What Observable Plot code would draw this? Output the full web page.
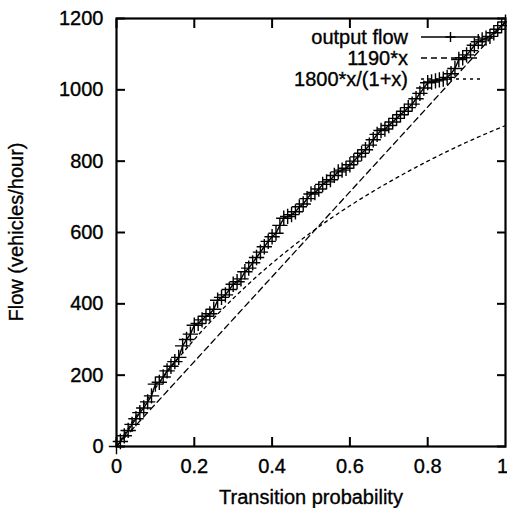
<!DOCTYPE html>
<html><head><meta charset="utf-8">
<script src="https://cdn.jsdelivr.net/npm/d3@7"></script>
<script src="https://cdn.jsdelivr.net/npm/@observablehq/plot@0.6"></script>
<style>
body{margin:0;background:#fff}
#chart svg{font-family:"Liberation Sans",Arial,Helvetica,sans-serif;display:block}
#chart svg text{stroke:black;stroke-width:0.35px}
</style>
</head><body><div id="chart"></div>
<script>
// Transition probability sampled for the measured output flow
const outputX = [0,0.01,0.02,0.03,0.04,0.05,0.06,0.07,0.08,0.09,
  0.1,0.11,0.12,0.13,0.14,0.15,0.16,0.17,0.18,0.19,
  0.2,0.21,0.22,0.23,0.24,0.25,0.26,0.27,0.28,0.29,
  0.3,0.31,0.32,0.33,0.34,0.35,0.36,0.37,0.38,0.39,
  0.4,0.41,0.42,0.43,0.44,0.45,0.46,0.47,0.48,0.49,
  0.5,0.51,0.52,0.53,0.54,0.55,0.56,0.57,0.58,0.59,
  0.6,0.61,0.62,0.63,0.64,0.65,0.66,0.67,0.68,0.69,
  0.7,0.71,0.72,0.73,0.74,0.75,0.76,0.77,0.78,0.79,
  0.8,0.81,0.82,0.83,0.84,0.85,0.86,0.87,0.88,0.89,
  0.9,0.91,0.92,0.93,0.94,0.95,0.96,0.97,0.98,0.99,1];
// Output flow (vehicles/hour)
const outputFlow = [0,14,30,45,62,78,95,108,125,142,
  175,180,195,212,225,238,250,282,300,315,
  340,345,355,365,372,385,410,418,425,440,
  455,462,470,490,500,515,530,545,560,575,
  588,598,620,640,645,650,658,672,680,695,
  708,712,722,735,742,748,760,770,775,780,
  790,800,812,822,832,845,860,875,886,890,
  900,910,920,930,940,950,960,975,990,1005,
  1020,1022,1025,1028,1030,1035,1045,1060,1085,1090,
  1098,1110,1125,1135,1140,1145,1150,1160,1170,1180,1190];
// 1190*x reference line (end points)
const linearX = [0, 1];
const linearFlow = [0, 1190];
// 1800*x/(1+x) reference curve (sampled values)
const curveX = [0,0.1,0.2,0.3,0.4,0.5,0.6,0.7,0.8,0.9,1];
const curveFlow = [0,164,300,415,514,600,675,741,800,853,900];

const xTicks = [0,0.2,0.4,0.6,0.8];
const xTickLabels = ["0","0.2","0.4","0.6","0.8"];
const xLastTick = [1];
const xLastTickLabel = ["1"];
const yTicks = [0,200,400,600,800,1000,1200];
const yTickLabels = ["0","200","400","600","800","1000","1200"];
const seriesNames = ["output flow","1190*x","1800*x/(1+x)"];
const xTitle = "Transition probability";
const yTitle = "Flow (vehicles/hour)";

const outputData = outputX.map((x,i)=>({x, y: outputFlow[i]}));
const linearData = linearX.map((x,i)=>({x, y: linearFlow[i]}));
const curveData = curveX.map((x,i)=>({x, y: curveFlow[i]}));

const chart = Plot.plot({
  width: 507, height: 508,
  marginLeft: 116, marginRight: 2, marginTop: 18, marginBottom: 62,
  style: {fontFamily: '"Liberation Sans",Arial,sans-serif', fontSize: "20px", color: "black", background: "white", overflow: "visible"},
  x: {domain: [0,1]},
  y: {domain: [0,1200]},
  marks: [
    Plot.line(linearData, {x:"x", y:"y", stroke:"black", strokeWidth:1.3, strokeDasharray:"6,4"}),
    Plot.line(curveData, {x:"x", y:"y", stroke:"black", strokeWidth:1.3, strokeDasharray:"3,4", curve:"natural"}),
    Plot.line(outputData, {x:"x", y:"y", stroke:"black", strokeWidth:1.4}),
    Plot.dot(outputData, {x:"x", y:"y", symbol:"plus", r:5, stroke:"black", strokeWidth:1.4}),
    Plot.axisX(xTicks, {anchor:"bottom", tickSize:-9, tickPadding:21, strokeWidth:2, tickFormat:(d,i)=>xTickLabels[i], label:null, fontSize:20}),
    Plot.axisX(xLastTick, {anchor:"bottom", tickSize:0, tickPadding:12, dx:-3, tickFormat:(d,i)=>xLastTickLabel[i], label:null, fontSize:20}),
    Plot.axisX(xTicks, {anchor:"top", tickSize:-9, strokeWidth:2, tickFormat:()=>"", label:null}),
    Plot.axisY(yTicks, {anchor:"left", tickSize:-9, tickPadding:22, strokeWidth:2, tickFormat:(d,i)=>yTickLabels[i], label:null, fontSize:20}),
    Plot.axisY(yTicks, {anchor:"right", tickSize:-9, strokeWidth:2, tickFormat:()=>"", label:null}),
    Plot.frame({stroke:"black", strokeWidth:2.2})
  ]
});
document.getElementById("chart").appendChild(chart);

const svg = d3.select(chart);
// axis titles
svg.append("text").attr("x", 311).attr("y", 497).attr("text-anchor","middle").attr("dominant-baseline","central")
  .attr("font-size", 20).attr("fill","black").text(xTitle);
svg.append("text").attr("transform","translate(16,232) rotate(-90)").attr("text-anchor","middle").attr("dominant-baseline","central")
  .attr("font-size", 20).attr("fill","black").text(yTitle);
// legend
const dashes = [null, "6,4", "3,4"];
const lg = svg.append("g");
seriesNames.forEach((name, i) => {
  const cy = 37 + i*21;
  lg.append("text").attr("x", 408).attr("y", cy).attr("text-anchor","end").attr("dominant-baseline","central")
    .attr("font-size", 20).attr("fill","black").text(name);
  lg.append("line").attr("x1", 421).attr("x2", 480).attr("y1", cy).attr("y2", cy)
    .attr("stroke","black").attr("stroke-width",1.3).attr("stroke-dasharray", dashes[i]);
  if (i === 0) {
    lg.append("path").attr("d", `M445.5,${cy}h10M450.5,${cy-5}v10`).attr("stroke","black").attr("stroke-width",1.4);
  }
});
</script>
</body></html>
